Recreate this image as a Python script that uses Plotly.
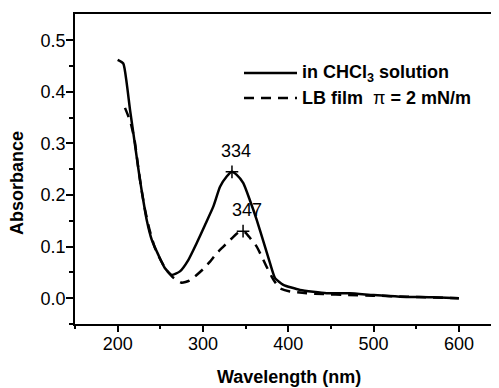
import plotly.graph_objects as go

# Solution spectrum (CHCl3)
wl_sol = [200, 206.6, 210.6, 214.5, 218.4, 222.3, 226.2, 230, 234, 240, 247.7, 255.5, 263.3,
          273, 282.8, 292.7, 302.4, 312.2, 320, 327.8, 334, 339.6, 347.3, 355, 363, 370.8,
          378.6, 384.5, 394.2, 413.8, 445, 472, 500, 531, 570, 600]
abs_sol = [0.462, 0.455, 0.417, 0.365, 0.32, 0.274, 0.229, 0.19, 0.152, 0.113, 0.084, 0.058, 0.045,
           0.052, 0.074, 0.107, 0.142, 0.178, 0.216, 0.236, 0.245, 0.239, 0.223, 0.19, 0.152, 0.11,
           0.068, 0.039, 0.026, 0.016, 0.0097, 0.0097, 0.006, 0.003, 0.002, 0.0]

# LB film spectrum
wl_lb = [208.6, 212, 216, 220, 224, 228, 232, 237, 243.8, 250, 257, 265, 275, 284, 292.6, 300,
         308.3, 316, 323.9, 335.6, 341, 345, 350, 356, 363, 368.8, 374, 380.5, 385, 390.3,
         402, 421.6, 441, 470, 500, 540, 600]
abs_lb = [0.369, 0.355, 0.335, 0.305, 0.255, 0.21, 0.172, 0.135, 0.097, 0.075, 0.055, 0.04, 0.03,
          0.034, 0.045, 0.056, 0.071, 0.087, 0.1, 0.119, 0.127, 0.13, 0.127, 0.115, 0.1, 0.081,
          0.063, 0.042, 0.03, 0.019, 0.013, 0.0097, 0.008, 0.006, 0.005, 0.003, 0.0]

peak_wl = [334, 347]
peak_abs = [0.245, 0.13]
peak_labels = ["334", "347"]

series_names = ["<b>in CHCl<sub>3</sub> solution</b>", "<b>LB film</b>  \u03c0 <b>= 2 mN/m</b>"]

x_ticks = [200, 300, 400, 500, 600]
y_ticks = [0.0, 0.1, 0.2, 0.3, 0.4, 0.5]

FONT = "Liberation Sans, Arial, sans-serif"
OFF = 8  # default page body margin
W, H = 499 - OFF, 388 - OFF
L, T = 75 - OFF, 14 - OFF
R = 0
B = H - (324 - OFF)
PW, PH = W - L - R, H - T - B


def px(xp):
    return (xp - OFF - L) / PW


def py(yp):
    return (H - B - (yp - OFF)) / PH


fig = go.Figure()
fig.add_trace(go.Scatter(x=wl_sol, y=abs_sol, mode="lines",
                         line=dict(color="black", width=2.5, shape="spline", smoothing=0.5),
                         name=series_names[0], showlegend=False))
fig.add_trace(go.Scatter(x=wl_lb, y=abs_lb, mode="lines",
                         line=dict(color="black", width=2.5, dash="10px,7px", shape="spline", smoothing=0.5),
                         name=series_names[1], showlegend=False))
fig.add_trace(go.Scatter(x=peak_wl, y=peak_abs, mode="markers", showlegend=False,
                         marker=dict(symbol="cross-thin", size=9, line=dict(color="black", width=1.5))))

for wx, wy, lab in zip(peak_wl, peak_abs, peak_labels):
    fig.add_annotation(x=wx, y=wy, text=lab, showarrow=False, xshift=4, yshift=21,
                       xanchor="center", yanchor="middle",
                       font=dict(family=FONT, size=18, color="black"))

# legend drawn manually
leg_y = [73, 98]
dashes = ["solid", "10px,7px"]
for name, ly, dsh in zip(series_names, leg_y, dashes):
    fig.add_shape(type="line", xref="paper", yref="paper", x0=px(244), x1=px(297), y0=py(ly), y1=py(ly),
                  line=dict(color="black", width=2.5, dash=dsh))
    fig.add_annotation(xref="paper", yref="paper", x=px(300), y=py(ly), xanchor="left", yanchor="middle",
                       text=name, showarrow=False, font=dict(family=FONT, size=18, color="black"))

fig.add_annotation(xref="paper", yref="paper", x=px(17), y=py(183), text="<b>Absorbance</b>",
                   xanchor="center", yanchor="middle",
                   textangle=-90, showarrow=False, font=dict(family=FONT, size=18, color="black"))
fig.add_annotation(xref="paper", yref="paper", x=px(288.5), y=py(377), text="<b>Wavelength (nm)</b>",
                   xanchor="center", yanchor="middle",
                   showarrow=False, font=dict(family=FONT, size=18, color="black"))

fig.update_layout(
    width=W, height=H,
    margin=dict(l=L, r=R, t=T, b=B, autoexpand=False),
    plot_bgcolor="white", paper_bgcolor="white",
    font=dict(family=FONT, size=18, color="black"),
    showlegend=False,
    xaxis=dict(range=[150, 647], tickvals=x_ticks, ticks="outside", ticklen=6, tickwidth=1.5, tickcolor="black",
               showline=True, linecolor="black", linewidth=1.5, mirror=True, showgrid=False, zeroline=False,
               automargin=False, ticklabelstandoff=-3,
               minor=dict(tickvals=[150, 250, 350, 450, 550], ticks="outside", ticklen=3, tickwidth=1.5, tickcolor="black"),
               tickfont=dict(size=18)),
    yaxis=dict(range=[-0.05, 0.551], tickvals=y_ticks, tickformat=".1f", ticks="outside", ticklen=7, tickwidth=1.5,
               tickcolor="black",
               showline=True, linecolor="black", linewidth=1.5, showgrid=False, zeroline=False,
               automargin=False, ticklabelstandoff=-3,
               minor=dict(tickvals=[-0.05, 0.05, 0.15, 0.25, 0.35, 0.45], ticks="outside", ticklen=4, tickwidth=1.5, tickcolor="black"),
               tickfont=dict(size=18)),
)

fig.write_html("out.html")
